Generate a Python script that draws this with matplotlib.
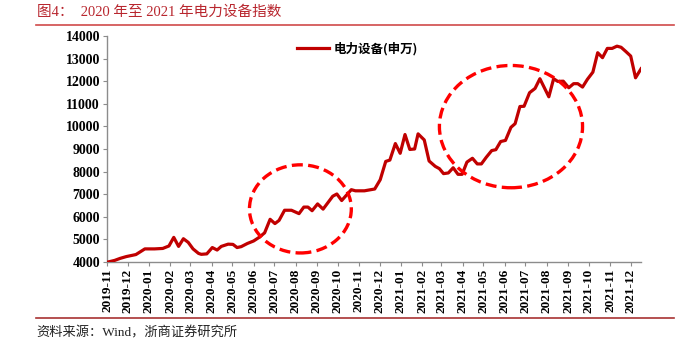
import pandas as pd
import matplotlib
matplotlib.use("Agg")
import matplotlib.pyplot as plt
import matplotlib.dates as mdates
from matplotlib.patches import Ellipse
from matplotlib.lines import Line2D

plt.rcParams["font.family"] = ["Liberation Serif", "Noto Sans CJK SC", "DejaVu Sans"]

TITLE  = "图4：  2020 年至 2021 年电力设备指数"
SOURCE = "资料来源：Wind，浙商证券研究所"
SERIES = "电力设备(申万)"

dates = [
    "2019-11-01", "2019-11-12", "2019-11-20", "2019-11-29", "2019-12-13", "2019-12-26",
    "2020-01-09", "2020-01-21", "2020-01-30", "2020-02-06", "2020-02-13", "2020-02-20", "2020-02-27",
    "2020-03-05", "2020-03-13", "2020-03-17", "2020-03-25", "2020-04-02", "2020-04-09", "2020-04-15", "2020-04-25",
    "2020-05-02", "2020-05-08", "2020-05-14", "2020-05-23", "2020-06-01", "2020-06-09", "2020-06-17", "2020-06-25",
    "2020-07-02", "2020-07-08", "2020-07-16", "2020-07-26", "2020-08-06", "2020-08-13", "2020-08-19", "2020-08-25",
    "2020-09-02", "2020-09-10", "2020-09-24", "2020-09-30", "2020-10-07", "2020-10-21", "2020-10-27",
    "2020-11-09", "2020-11-24", "2020-12-02", "2020-12-10", "2020-12-16", "2020-12-24", "2020-12-31",
    "2021-01-07", "2021-01-14", "2021-01-21", "2021-01-26", "2021-02-04", "2021-02-11", "2021-02-20", "2021-02-26",
    "2021-03-04", "2021-03-11", "2021-03-18", "2021-03-25", "2021-03-31", "2021-04-07", "2021-04-15", "2021-04-22", "2021-04-28",
    "2021-05-05", "2021-05-13", "2021-05-19", "2021-05-26", "2021-06-02", "2021-06-10", "2021-06-16", "2021-06-23", "2021-06-29",
    "2021-07-07", "2021-07-15", "2021-07-22", "2021-08-04", "2021-08-11", "2021-08-17", "2021-08-25",
    "2021-09-02", "2021-09-09", "2021-09-15", "2021-09-22", "2021-09-29", "2021-10-07", "2021-10-14", "2021-10-21", "2021-10-28",
    "2021-11-04", "2021-11-11", "2021-11-17", "2021-11-24", "2021-12-01", "2021-12-08", "2021-12-16",
]

index_values = [
    3990, 4070, 4160, 4240, 4330, 4580,
    4580, 4600, 4710, 5090, 4690, 5030, 4870,
    4580, 4380, 4340, 4360, 4640, 4530, 4690, 4790,
    4780, 4640, 4680, 4820, 4930, 5090, 5290, 5890,
    5700, 5840, 6290, 6290, 6140, 6430, 6430, 6270,
    6570, 6340, 6910, 7010, 6720, 7200, 7150,
    7150, 7230, 7640, 8450, 8510, 9240, 8810,
    9640, 8980, 9000, 9670, 9400, 8470, 8230, 8130,
    7910, 7940, 8170, 7880, 7880, 8420, 8590, 8340, 8340,
    8630, 8930, 8970, 9330, 9380, 9960, 10120, 10880, 10890,
    11490, 11680, 12110, 11310, 12110, 11990, 12000,
    11710, 11890, 11890, 11740, 12080, 12400, 13260, 13040, 13450,
    13450, 13550, 13500, 13310, 13110, 12150, 12550,
]

# highlighted regions: centre date, centre value, width (days), height
circle_centers = ["2020-08-08", "2021-06-10"]
circle_values  = [6350, 9990]
circle_widths  = [148, 208]
circle_heights = [3900, 5410]

tick_months = pd.date_range("2019-11-01", "2021-12-01", freq="MS")

x = pd.to_datetime(dates)

fig = plt.figure(figsize=(6.79, 3.48), dpi=100)
ax = fig.add_axes([0.1576, 0.2471, 0.7865, 0.6495])

ax.plot(x, index_values, color="#C00000", lw=2.3, label=SERIES, zorder=3)

for c, v, w, h in zip(circle_centers, circle_values, circle_widths, circle_heights):
    ax.add_patch(Ellipse((mdates.date2num(pd.Timestamp(c)), v), w, h,
                         fill=False, edgecolor="#FF0000", lw=2.4,
                         linestyle=(0, (3.3, 1.6)), zorder=4))

ax.set_xlim(pd.Timestamp("2019-11-01"), pd.Timestamp("2021-12-16"))
ax.set_ylim(4000, 14000)
ax.set_yticks(range(4000, 14001, 1000))
ax.set_xticks(tick_months)
ax.set_xticklabels([d.strftime("%Y-%m") for d in tick_months], rotation=90)

for lab in ax.get_xticklabels():
    lab.set_fontweight("bold")
    lab.set_fontsize(9.5)
for lab in ax.get_yticklabels():
    lab.set_fontweight("bold")
    lab.set_fontsize(10)

for s in ["top", "right"]:
    ax.spines[s].set_visible(False)
for s in ["left", "bottom"]:
    ax.spines[s].set_color("#8c8c8c")
    ax.spines[s].set_linewidth(1.0)
ax.tick_params(axis="both", direction="out", length=3, color="#8c8c8c", pad=2)

leg = ax.legend(loc="center left", bbox_to_anchor=(0.355, 0.942), frameon=False,
                borderpad=0, borderaxespad=0, handlelength=2.6, handletextpad=0.4,
                prop={"family": ["Noto Sans CJK SC"], "weight": "bold", "size": 9})

fig.text(0.0545, 0.9655, TITLE, color="#B8262E", fontsize=10.5, va="center", ha="left")
fig.add_artist(Line2D([0.053, 0.9926], [0.928, 0.928], color="#D04A4A", lw=1.2))
fig.add_artist(Line2D([0.053, 0.9926], [0.0862, 0.0862], color="#A83232", lw=1.2))
fig.text(0.053, 0.043, SOURCE, color="#222222", fontsize=9.5, va="center", ha="left")

fig.savefig("out.png", dpi=100)
